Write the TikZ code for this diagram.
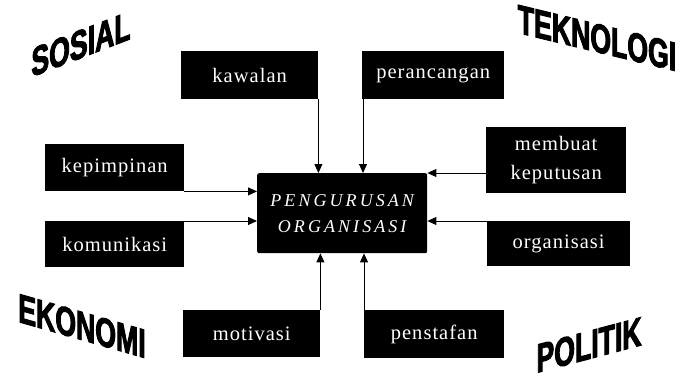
\documentclass[tikz,border=0pt]{standalone}
\usepackage{fontspec}
\usetikzlibrary{arrows.meta}
\newfontfamily\boxfont[LetterSpace=5]{Liberation Serif}
\newfontfamily\ctrfont[LetterSpace=17]{Liberation Serif}
\newfontfamily\bigfont[FakeStretch=0.72,FakeBold=2.5]{Liberation Sans Bold}
\tikzset{
  box/.style={fill=black, text=white, anchor=north west, inner sep=0pt, align=center,
    font=\boxfont\fontsize{20.5}{29}\selectfont},
  ctr/.style={fill=black, text=white, anchor=north west, inner sep=0pt, align=center,
    rounded corners=2pt, font=\ctrfont\itshape\fontsize{18}{26}\selectfont},
  bigword/.style={font=\bigfont\fontsize{37}{37}\selectfont, inner sep=0pt, anchor=center, yscale=1.1},
  arr/.style={line width=0.9pt, -{Triangle[length=9pt,width=8pt]}}
}
\begin{document}
\begin{tikzpicture}[x=1pt,y=-1pt]
\useasboundingbox[fill=white] (0,0) rectangle (682,385);
% central box
\node[ctr, minimum width=170pt, minimum height=80pt] (center) at (257,173) {PENGURUSAN\\ORGANISASI};
% surrounding boxes
\node[box, minimum width=137pt, minimum height=48pt] (kawalan) at (181,51) {kawalan};
\node[box, minimum width=142pt, minimum height=48pt] (perancangan) at (362,51) {perancangan};
\node[box, minimum width=139pt, minimum height=47pt] (kepimpinan) at (45,144) {kepimpinan};
\node[box, minimum width=139pt, minimum height=46pt] (komunikasi) at (45,221) {komunikasi};
\node[box, minimum width=140pt, minimum height=66pt] (membuat) at (486,127) {membuat\\keputusan};
\node[box, minimum width=143pt, minimum height=45pt] (organisasi) at (487,221) {organisasi};
\node[box, minimum width=137pt, minimum height=47pt] (motivasi) at (183,310) {motivasi};
\node[box, minimum width=140pt, minimum height=48pt] (penstafan) at (364,310) {penstafan};
% connectors
\draw[arr] (kawalan.south east) -- (kawalan.south east |- center.north);
\draw[arr] ([xshift=1pt]perancangan.south west) -- ([xshift=1pt]perancangan.south west |- center.north);
\draw[arr] (kepimpinan.south east) -- (kepimpinan.south east -| center.west);
\draw[arr] (komunikasi.north east) -- (komunikasi.north east -| center.west);
\draw[arr] (center.north east -| membuat.west) -- (center.north east);
\draw[arr] (organisasi.north west) -- (organisasi.north west -| center.east);
\draw[arr] (motivasi.north east) -- (motivasi.north east |- center.south);
\draw[arr] (penstafan.north west) -- (penstafan.north west |- center.south);
% big words
\node[bigword, yslant=0.35] (sosial) at (81,44) {SOSIAL};
\node[bigword, yslant=-0.22] (teknologi) at (597,38) {TEKNOLOGI};
\node[bigword, yslant=-0.26] (ekonomi) at (82,326) {EKONOMI};
\node[bigword, yslant=0.24] (politik) at (589,345) {POLITIK};
\end{tikzpicture}
\end{document}
